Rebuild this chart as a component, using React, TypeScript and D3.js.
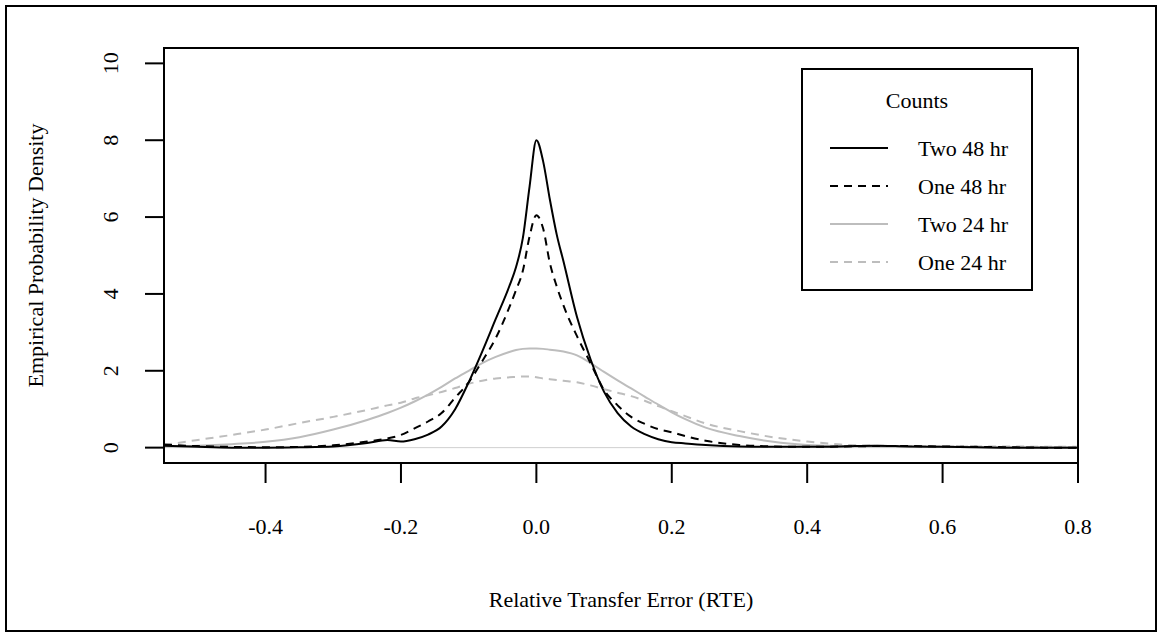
import React from "react";
import * as d3 from "d3";

const xGrid = [-0.55, -0.5, -0.45, -0.4, -0.35, -0.3, -0.25, -0.22, -0.2, -0.18, -0.16, -0.14, -0.12, -0.1, -0.08, -0.06, -0.04, -0.03, -0.02, -0.01, 0, 0.01, 0.02, 0.03, 0.04, 0.06, 0.08, 0.1, 0.12, 0.14, 0.16, 0.18, 0.2, 0.22, 0.25, 0.3, 0.35, 0.4, 0.45, 0.5, 0.55, 0.6, 0.65, 0.7, 0.75, 0.8];

const twoHr48 = [0.05, 0.02, 0.0, 0.0, 0.01, 0.03, 0.12, 0.2, 0.16, 0.22, 0.34, 0.55, 1.0, 1.7, 2.5, 3.35, 4.2, 4.7, 5.45, 6.8, 8.0, 7.45, 6.45, 5.55, 4.85, 3.4, 2.3, 1.45, 0.9, 0.55, 0.35, 0.22, 0.14, 0.11, 0.07, 0.03, 0.02, 0.02, 0.03, 0.05, 0.03, 0.02, 0.01, 0.0, 0.0, 0.0];

const oneHr48 = [0.08, 0.04, 0.02, 0.01, 0.02, 0.06, 0.16, 0.24, 0.33, 0.5, 0.68, 0.9, 1.3, 1.7, 2.25, 2.85, 3.65, 4.1, 4.6, 5.5, 6.05, 5.7, 4.8, 4.2, 3.7, 2.9, 2.2, 1.5, 1.1, 0.8, 0.62, 0.48, 0.4, 0.3, 0.18, 0.07, 0.03, 0.02, 0.03, 0.04, 0.04, 0.03, 0.02, 0.01, 0.0, 0.0];

const twoHr24 = [0.03, 0.05, 0.09, 0.15, 0.27, 0.47, 0.72, 0.9, 1.04, 1.2, 1.38, 1.58, 1.8, 2.0, 2.2, 2.36, 2.49, 2.54, 2.57, 2.58, 2.58, 2.57, 2.55, 2.53, 2.5, 2.4, 2.2, 1.97, 1.75, 1.54, 1.33, 1.12, 0.92, 0.74, 0.52, 0.3, 0.15, 0.07, 0.04, 0.03, 0.02, 0.02, 0.01, 0.01, 0.01, 0.01];

const oneHr24 = [0.07, 0.2, 0.33, 0.47, 0.64, 0.8, 0.98, 1.1, 1.17, 1.28, 1.36, 1.45, 1.55, 1.66, 1.74, 1.8, 1.83, 1.84, 1.85, 1.85, 1.83, 1.8, 1.78, 1.76, 1.74, 1.7, 1.62, 1.52, 1.43, 1.34, 1.22, 1.08, 0.95, 0.82, 0.63, 0.43, 0.27, 0.16, 0.08, 0.05, 0.04, 0.03, 0.03, 0.03, 0.02, 0.02];

const xTicks = [-0.4, -0.2, 0.0, 0.2, 0.4, 0.6, 0.8];
const yTicks = [0, 2, 4, 6, 8, 10];
const legendTitle = "Counts";
const seriesNames = ["Two 48 hr", "One 48 hr", "Two 24 hr", "One 24 hr"];

const FONT = "'Liberation Serif', 'Times New Roman', serif";

export default function App() {
  const left = 164, right = 1078, top = 48, bottom = 463;
  const x = d3.scaleLinear().domain([-0.55, 0.8]).range([left, right]);
  const y = d3.scaleLinear().domain([-0.4, 10.4]).range([bottom, top]);

  const series = [
    { name: seriesNames[0], values: twoHr48, color: "#000", dash: null },
    { name: seriesNames[1], values: oneHr48, color: "#000", dash: "8,6" },
    { name: seriesNames[2], values: twoHr24, color: "#bdbdbd", dash: null },
    { name: seriesNames[3], values: oneHr24, color: "#bdbdbd", dash: "8,6" },
  ];

  const line = d3
    .line<number>()
    .x((_, i) => x(xGrid[i]))
    .y((d) => y(d))
    .curve(d3.curveMonotoneX);

  const fmt = (v: number) => v.toFixed(1);
  const legX1 = 830, legX2 = 888, legText = 918;
  const legRows = [148, 186, 224, 262];

  return (
    <svg
      width={1160}
      height={635}
      style={{ position: "absolute", left: 0, top: 0, background: "#fff" }}
      fontFamily={FONT}
    >
      <rect x={0} y={0} width={1160} height={635} fill="#fff" />
      <rect x={6} y={6} width={1150} height={625} fill="none" stroke="#000" strokeWidth={2} />
      <defs>
        <clipPath id="plotclip">
          <rect x={left} y={top} width={right - left} height={bottom - top} />
        </clipPath>
      </defs>

      {/* zero reference line */}
      <line x1={left} x2={right} y1={y(0)} y2={y(0)} stroke="#cfcfcf" strokeWidth={1} />

      <g clipPath="url(#plotclip)">
        {series
          .slice()
          .reverse()
          .map((s) => (
            <path
              key={s.name}
              d={line(s.values) || ""}
              fill="none"
              stroke={s.color}
              strokeWidth={2}
              strokeDasharray={s.dash || undefined}
            />
          ))}
      </g>

      {/* plot box */}
      <rect x={left} y={top} width={right - left} height={bottom - top} fill="none" stroke="#000" strokeWidth={2} />

      {/* x axis */}
      {xTicks.map((t) => (
        <g key={"x" + t}>
          <line x1={x(t)} x2={x(t)} y1={bottom} y2={bottom + 20} stroke="#000" strokeWidth={2} />
          <text x={x(t)} y={534} textAnchor="middle" fontSize={22} fill="#000">
            {fmt(t)}
          </text>
        </g>
      ))}

      {/* y axis */}
      {yTicks.map((t) => (
        <g key={"y" + t}>
          <line x1={left - 19} x2={left} y1={y(t)} y2={y(t)} stroke="#000" strokeWidth={2} />
          <text
            transform={`translate(118,${y(t)}) rotate(-90)`}
            textAnchor="middle"
            fontSize={22}
            fill="#000"
          >
            {t}
          </text>
        </g>
      ))}

      <text x={(left + right) / 2} y={607} textAnchor="middle" fontSize={22} fill="#000">
        Relative Transfer Error (RTE)
      </text>
      <text
        transform={`translate(43,${(top + bottom) / 2}) rotate(-90)`}
        textAnchor="middle"
        fontSize={22}
        fill="#000"
      >
        Empirical Probability Density
      </text>

      {/* legend */}
      <rect x={802} y={69} width={230} height={221} fill="#fff" stroke="#000" strokeWidth={2} />
      <text x={917} y={100} dy="0.35em" textAnchor="middle" fontSize={22} fill="#000">
        {legendTitle}
      </text>
      {series.map((s, i) => (
        <g key={"leg" + s.name}>
          <line
            x1={legX1}
            x2={legX2}
            y1={legRows[i]}
            y2={legRows[i]}
            stroke={s.color}
            strokeWidth={2}
            strokeDasharray={s.dash || undefined}
          />
          <text x={legText} y={legRows[i]} dy="0.35em" fontSize={22} fill="#000">
            {s.name}
          </text>
        </g>
      ))}
    </svg>
  );
}
